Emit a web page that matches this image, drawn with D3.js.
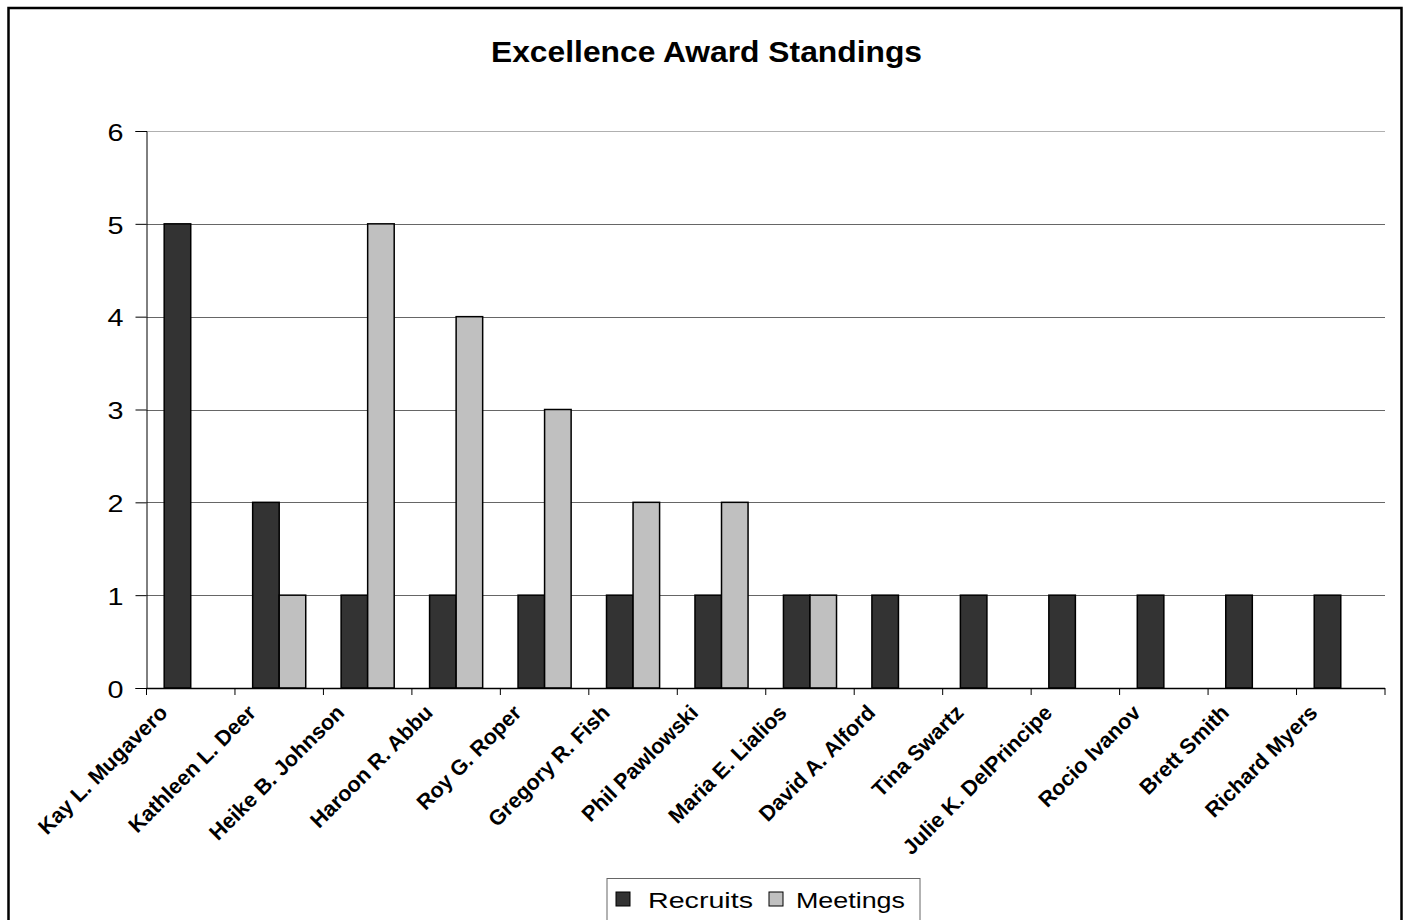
<!DOCTYPE html>
<html>
<head>
<meta charset="utf-8">
<script src="https://cdn.jsdelivr.net/npm/d3@7/dist/d3.min.js"></script>
<style>
  body { margin: 0; background: white; }
  text { font-family: Arial, "Liberation Sans", sans-serif; }
</style>
</head>
<body>
<script>

const names = ["Kay L. Mugavero", "Kathleen L. Deer", "Heike B. Johnson", "Haroon R. Abbu",
  "Roy G. Roper", "Gregory R. Fish", "Phil Pawlowski", "Maria E. Lialios", "David A. Alford",
  "Tina Swartz", "Julie K. DelPrincipe", "Rocio Ivanov", "Brett Smith", "Richard Myers"];
const recruits = [5, 2, 1, 1, 1, 1, 1, 1, 1, 1, 1, 1, 1, 1];
const meetings = [null, 1, 5, 4, 3, 2, 2, 1, null, null, null, null, null, null];
const seriesNames = ["Recruits", "Meetings"];
const seriesColors = ["#333333", "#c0c0c0"];
const yTicks = [0, 1, 2, 3, 4, 5, 6];

const width = 1405, height = 920;
const plotLeft = 146.5, plotRight = 1385, plotTop = 131, plotBottom = 688;

const svg = d3.select("body")
  .append("svg")
  .attr("width", width)
  .attr("height", height);

// outer frame
svg.append("rect")
  .attr("x", 8.5)
  .attr("y", 8)
  .attr("width", 1393)
  .attr("height", 930)
  .style("fill", "white")
  .style("stroke", "black")
  .style("stroke-width", 2.5)

svg.append("text")
  .attr("x", 706.5)
  .attr("y", 62)
  .attr("text-anchor", "middle")
  .attr("font-size", 29)
  .attr("font-weight", "bold")
  .attr("textLength", 431)
  .attr("lengthAdjust", "spacingAndGlyphs")
  .text("Excellence Award Standings")

const x0 = d3.scaleBand()
  .domain(names)
  .range([plotLeft, plotRight])
  .paddingInner(0.4)
  .paddingOuter(0.2);

const x1 = d3.scaleBand()
  .domain(seriesNames)
  .range([0, x0.bandwidth()]);

const y = d3.scaleLinear()
  .domain([0, 6])
  .range([plotBottom, plotTop]);

// gridlines
svg.append("g")
  .selectAll("line")
  .data(yTicks.slice(1))
  .enter()
  .append("line")
  .attr("x1", plotLeft)
  .attr("x2", plotRight)
  .attr("y1", d => Math.round(y(d)) + 0.5)
  .attr("y2", d => Math.round(y(d)) + 0.5)
  .attr("stroke", d => d === 6 ? "#b0b0b0" : "#666")

// y axis
const yAxis = svg.append("g")
  .attr("transform", `translate(${plotLeft},0)`)
  .call(d3.axisLeft(y).tickValues(yTicks).tickSize(11).tickFormat(d3.format("d")));
yAxis.select(".domain").attr("stroke", "black");
yAxis.selectAll("line").attr("stroke", "black");
yAxis.selectAll("text")
  .attr("x", -23)
  .attr("dy", "0.4em")
  .attr("font-size", 23)
  .attr("fill", "black")
  .attr("textLength", 16)
  .attr("lengthAdjust", "spacingAndGlyphs");

// bars
const groups = svg.append("g")
  .selectAll("g")
  .data(names)
  .enter()
  .append("g")
  .attr("transform", d => `translate(${x0(d)},0)`);

groups.selectAll("rect")
  .data((d, i) => [
    { key: "Recruits", value: recruits[i] },
    { key: "Meetings", value: meetings[i] }
  ].filter(e => e.value))
  .enter()
  .append("rect")
  .attr("x", d => x1(d.key))
  .attr("y", d => y(d.value))
  .attr("width", x1.bandwidth())
  .attr("height", d => plotBottom - y(d.value))
  .style("fill", d => seriesColors[seriesNames.indexOf(d.key)])
  .style("stroke", "black")
  .style("stroke-width", 1.5)

// x axis line + boundary ticks
svg.append("line")
  .attr("x1", plotLeft)
  .attr("x2", plotRight)
  .attr("y1", plotBottom + 0.5)
  .attr("y2", plotBottom + 0.5)
  .attr("stroke", "black")
  .attr("stroke-width", 1.5)

const step = x0.step();
svg.append("g")
  .selectAll("line")
  .data(d3.range(names.length + 1))
  .enter()
  .append("line")
  .attr("x1", i => plotLeft + i * step)
  .attr("x2", i => plotLeft + i * step)
  .attr("y1", plotBottom)
  .attr("y2", plotBottom + 7)
  .attr("stroke", "black")

// category labels
svg.append("g")
  .selectAll("text")
  .data(names)
  .enter()
  .append("text")
  .attr("transform", d => `translate(${x0(d) + x0.bandwidth() / 2 - 22},714) rotate(-45)`)
  .attr("text-anchor", "end")
  .attr("font-size", 21.5)
  .attr("font-weight", "bold")
  .text(d => d)

// legend
svg.append("rect")
  .attr("x", 607)
  .attr("y", 878.5)
  .attr("width", 313)
  .attr("height", 60)
  .style("fill", "white")
  .style("stroke", "#666")

const legendX = [616, 769];
const legendTextX = [648, 796];
const legendTextW = [105, 109];
const legend = svg.append("g")
  .selectAll("g")
  .data(seriesNames)
  .enter()
  .append("g");

legend.append("rect")
  .attr("x", (d, i) => legendX[i])
  .attr("y", 892)
  .attr("width", 14)
  .attr("height", 14)
  .style("fill", (d, i) => seriesColors[i])
  .style("stroke", "black")

legend.append("text")
  .attr("x", (d, i) => legendTextX[i])
  .attr("y", 907.5)
  .attr("font-size", 22)
  .attr("textLength", (d, i) => legendTextW[i])
  .attr("lengthAdjust", "spacingAndGlyphs")
  .text(d => d)

</script>
</body>
</html>
